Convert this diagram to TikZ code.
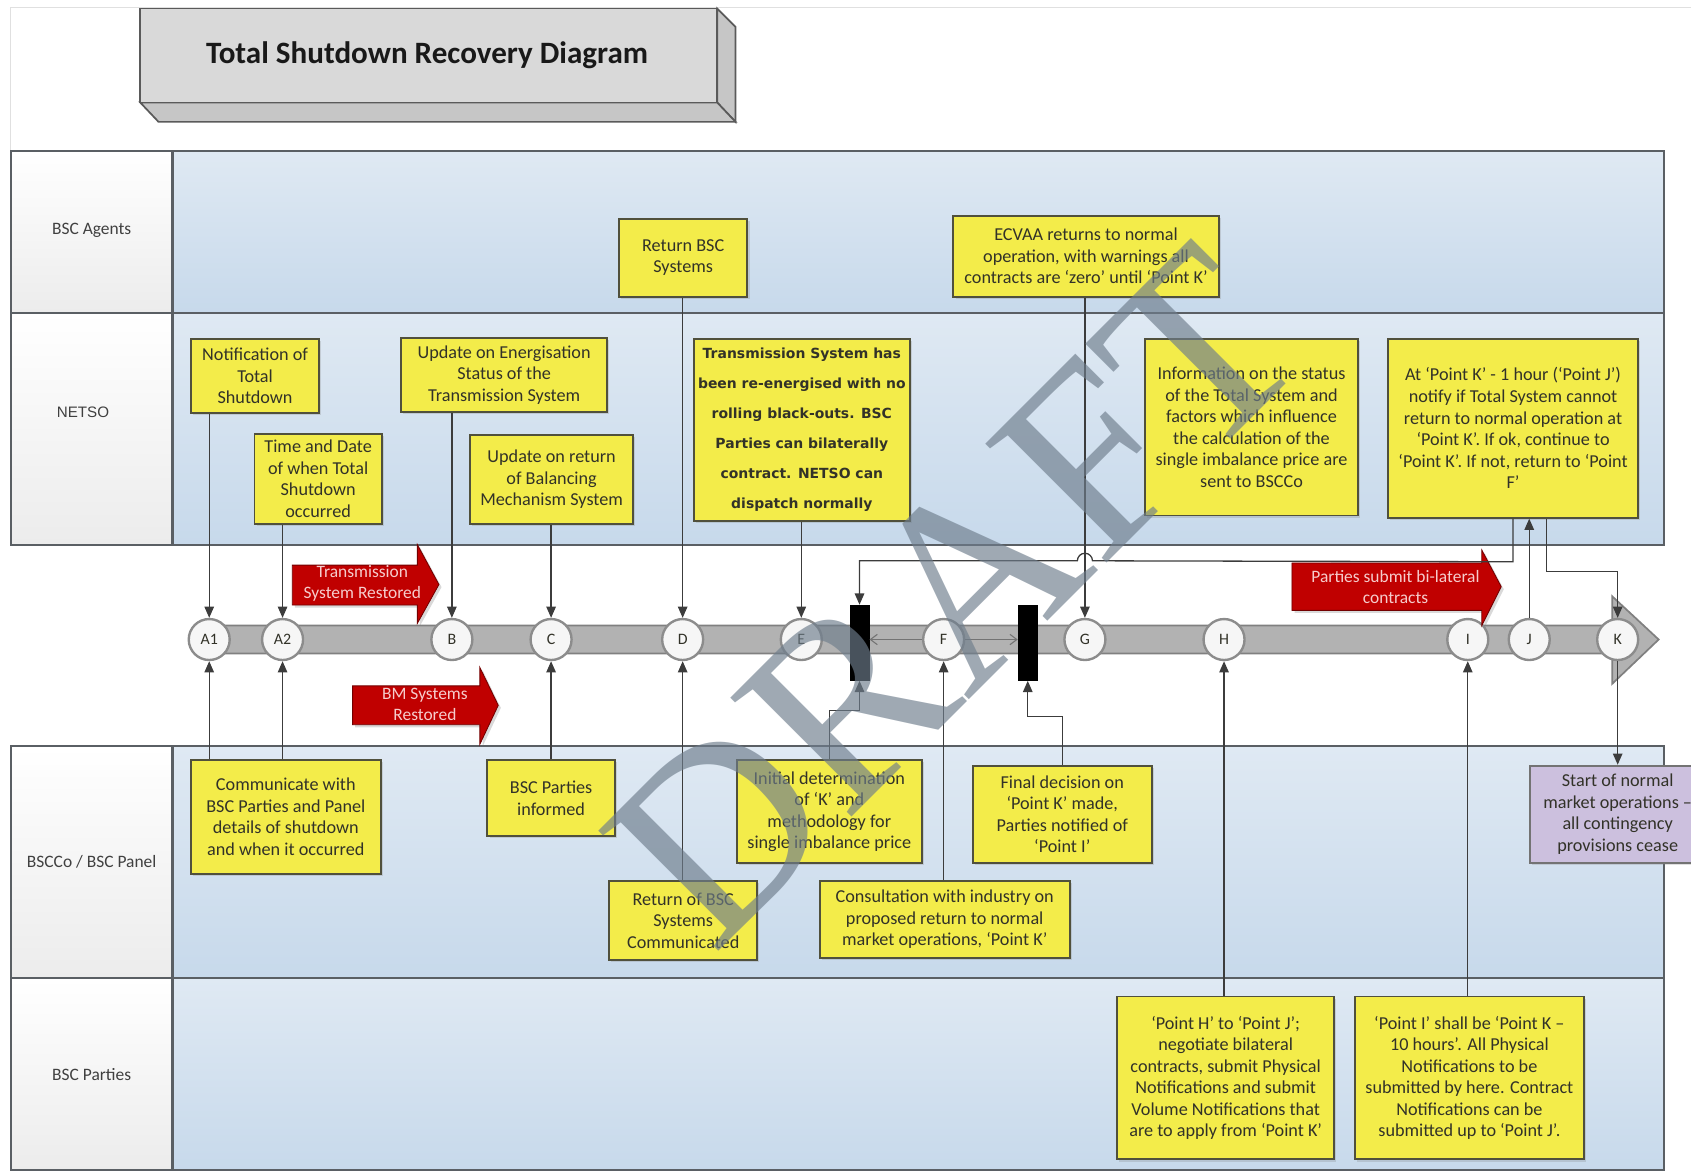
\documentclass[tikz,border=0pt]{standalone}
\usepackage{fontspec}
\setmainfont{Carlito}
\newfontfamily\boldsans{DejaVu Sans}
\newfontfamily\arialsans{Liberation Sans}
\newfontfamily\draftfont{Liberation Serif}
\usetikzlibrary{arrows.meta,shadows}

\definecolor{noteyellow}{RGB}{243,236,74}
\definecolor{noteedge}{RGB}{80,80,60}
\definecolor{lilacfill}{RGB}{204,192,222}
\definecolor{laneTop}{RGB}{223,233,243}
\definecolor{laneBot}{RGB}{199,217,235}
\definecolor{laneedge}{RGB}{90,95,100}
\definecolor{cellBot}{RGB}{236,236,236}
\definecolor{bandfill}{RGB}{178,178,178}
\definecolor{bandedge}{RGB}{128,128,128}
\definecolor{stagefill}{RGB}{246,246,246}
\definecolor{stagedge}{RGB}{140,140,140}
\definecolor{linegray}{RGB}{60,60,60}
\definecolor{redfill}{RGB}{192,0,0}
\definecolor{redtext}{RGB}{246,204,204}
\definecolor{txtgray}{RGB}{50,50,40}
\definecolor{titlefill}{RGB}{217,217,217}
\definecolor{titleshade}{RGB}{198,198,198}
\definecolor{titleedge}{RGB}{90,90,90}
\definecolor{draftgray}{RGB}{110,125,140}

\begin{document}
\begin{tikzpicture}[%
    x=0.25mm, y=-0.25mm,        % one unit is one pixel of the sketch, y runs down
    >={Triangle[length=2.6mm,width=2.2mm]}, % filled heads on every connector
    every node/.style={text=txtgray},
    ]
% -------------------------------------------------
% Box, lane and connector styles
\tikzset{
  note/.style={draw=noteedge, line width=0.45mm, fill=noteyellow, align=center,
    inner sep=1mm, font=\fontsize{12}{14.2}\selectfont,
    drop shadow={opacity=0.25, shadow xshift=0.5mm, shadow yshift=-0.5mm}},
  bignote/.style={note, font=\boldsans\bfseries\fontsize{9.2}{19.8}\selectfont},
  lilac/.style={note, fill=lilacfill, draw=black!55},
  stage/.style={circle, draw=stagedge, line width=0.55mm, fill=stagefill,
    minimum size=9.5mm, inner sep=0pt, font=\fontsize{10.5}{12}\selectfont},
  gate/.style={draw=black, fill=black, minimum width=4.5mm, minimum height=17.5mm,
    inner sep=0pt},
  % Connector line styles
  link/.style={->, draw=linegray, line width=0.3mm},
  flink/.style={-{Straight Barb[length=1.6mm,width=2.4mm]}, draw=black!55, line width=0.25mm},
  redarr/.style={fill=redfill, draw=red!45!black, line width=0.2mm,
    drop shadow={opacity=0.3, shadow xshift=0.6mm, shadow yshift=-0.6mm}},
  arrtxt/.style={align=center, text=redtext, font=\fontsize{11.5}{13.8}\selectfont},
  % Lanes
  lanecell/.style={top color=white, bottom color=cellBot, draw=laneedge, line width=0.5mm},
  lanebg/.style={top color=laneTop, bottom color=laneBot, draw=laneedge, line width=0.5mm},
  lanelbl/.style={font=\fontsize{11.5}{13}\selectfont, text=black!75},
  band/.style={fill=bandfill, draw=bandedge, line width=0.4mm},
  draft/.style={font=\draftfont\fontsize{171}{171}\selectfont, text=draftgray,
    text opacity=0.66, rotate=45, inner sep=0pt}
}
\useasboundingbox (0,0) rectangle (1568,1088);
\clip (0,0) rectangle (1568,1088);
% -------------------------------------------------
% Title block
\draw[black!12, line width=0.3mm] (10,140) -- (10,7) -- (1568,7);
\draw[fill=titleshade, draw=titleedge, line width=0.4mm] (665,8) -- (682,25) -- (682,113) -- (665,95) -- cycle;
\draw[fill=titleshade, draw=titleedge, line width=0.4mm] (130,95) -- (665,95) -- (682,113) -- (147,113) -- cycle;
\draw[fill=titlefill, draw=titleedge, line width=0.4mm] (130,8) rectangle (665,95);
\node[font=\bfseries\fontsize{20.5}{24}\selectfont, text=black!90] (title) at (396,51) {Total Shutdown Recovery Diagram};

% -------------------------------------------------
% Swim lanes
\draw[lanecell] (10,140) rectangle (160,290);
\draw[lanebg] (160,140) rectangle (1543,290);
\draw[lanecell] (10,290) rectangle (160,505);
\draw[lanebg] (160,290) rectangle (1543,505);
\draw[lanecell] (10,692) rectangle (160,907);
\draw[lanebg] (160,692) rectangle (1543,907);
\draw[lanecell] (10,907) rectangle (160,1085);
\draw[lanebg] (160,907) rectangle (1543,1085);

\node[lanelbl] (agents) at (85,214) {BSC Agents};
\node[lanelbl, font=\arialsans\fontsize{10}{12}\selectfont] (netso) at (77,382) {NETSO};
\node[lanelbl] (panel) at (85,799) {BSCCo / BSC Panel};
\node[lanelbl] (parties) at (85,996) {BSC Parties};

% -------------------------------------------------
% Time line with its points
\draw[band] (185,580) -- (1495,580) -- (1495,553) -- (1538,593) -- (1495,634) -- (1495,606) -- (185,606) -- cycle;

\node[stage] (A1) at (194,593) {A1};
\node[stage] (A2) at (262,593) {A2};
\node[stage] (B) at (419,593) {B};
\node[stage] (C) at (511,593) {C};
\node[stage] (D) at (633,593) {D};
\node[stage] (E) at (743,593) {E};
\node[stage] (F) at (875,593) {F};
\node[stage] (G) at (1006,593) {G};
\node[stage] (H) at (1135,593) {H};
\node[stage] (I) at (1361,593) {I};
\node[stage] (J) at (1418,593) {J};
\node[stage] (K) at (1500,593) {K};
\node[gate] (k1) at (797,596) {};
\node[gate] (k2) at (953,596) {};

% Red milestone arrows
\fill[redarr] (271,524) -- (387,524) -- (387,505) -- (407,542) -- (387,578) -- (387,561) -- (271,561) -- cycle;
\node[arrtxt] (rsys) at (336,541) {Transmission\\System Restored};
\fill[redarr] (327,636) -- (445,636) -- (445,619) -- (462,654) -- (445,690) -- (445,672) -- (327,672) -- cycle;
\node[arrtxt] (rbm) at (394,653) {BM Systems\\Restored};
\fill[redarr] (1198,522) -- (1374,522) -- (1374,510) -- (1392,544) -- (1374,580) -- (1374,566) -- (1198,566) -- cycle;
\node[arrtxt] (rbil) at (1294,544) {Parties submit bi-lateral\\contracts};

% -------------------------------------------------
% BSC Agents
\node[note, minimum width=29.75mm, minimum height=18mm] (rbs) at (633.5,239) {Return BSC\\Systems};
\node[note, minimum width=61.5mm, minimum height=18.75mm] (ecv) at (1007,237.5) {ECVAA returns to normal\\operation, with warnings all\\contracts are ‘zero’ until ‘Point K’};

% NETSO
\node[note, minimum width=29.75mm, minimum height=17.25mm] (nts) at (236.5,348.5) {Notification of\\Total\\Shutdown};
\node[note, minimum width=29.5mm, minimum height=21mm] (tdo) at (295,444) {Time and Date\\of when Total\\Shutdown\\occurred};
\node[note, minimum width=47.75mm, minimum height=17.25mm] (ues) at (467.5,347.5) {Update on Energisation\\Status of the\\Transmission System};
\node[note, minimum width=37.75mm, minimum height=20.75mm] (urb) at (511.5,444.5) {Update on return\\of Balancing\\Mechanism System};
\node[bignote, minimum width=49.25mm, minimum height=42.25mm] (tsre) at (743.5,398.5) {Transmission System has\\been re-energised with no\\rolling black-outs. BSC\\Parties can bilaterally\\contract. NETSO can\\dispatch normally};
\node[note, minimum width=49.25mm, minimum height=41mm] (info) at (1160.5,396) {Information on the status\\of the Total System and\\factors which influence\\the calculation of the\\single imbalance price are\\sent to BSCCo};
\node[note, minimum width=58mm, minimum height=41.5mm] (pointk) at (1403,397) {At ‘Point K’ - 1 hour (‘Point J’)\\notify if Total System cannot\\return to normal operation at\\‘Point K’. If ok, continue to\\‘Point K’. If not, return to ‘Point\\F’};

% BSCCo / BSC Panel
\node[note, minimum width=44mm, minimum height=26.25mm] (comm) at (265,757.5) {Communicate with\\BSC Parties and Panel\\details of shutdown\\and when it occurred};
\node[note, minimum width=29.5mm, minimum height=17.5mm] (inf) at (511,740) {BSC Parties\\informed};
\node[note, minimum width=34.25mm, minimum height=18.25mm] (rbsc) at (633.5,853.5) {Return of BSC\\Systems\\Communicated};
\node[note, minimum width=43mm, minimum height=23.75mm] (init) at (769,752.5) {Initial determination\\of ‘K’ and\\methodology for\\single imbalance price};
\node[note, minimum width=58mm, minimum height=17.75mm] (cons) at (876,852.5) {Consultation with industry on\\proposed return to normal\\market operations, ‘Point K’};
\node[note, minimum width=41.5mm, minimum height=22.5mm] (fin) at (985,755) {Final decision on\\‘Point K’ made,\\Parties notified of\\‘Point I’};
\node[lilac, minimum width=40.5mm, minimum height=22.5mm] (start) at (1500,755) {Start of normal\\market operations –\\all contingency\\provisions cease};

% BSC Parties
\node[note, minimum width=50.25mm, minimum height=37.75mm] (phj) at (1136.5,999.5) {‘Point H’ to ‘Point J’;\\negotiate bilateral\\contracts, submit Physical\\Notifications and submit\\Volume Notifications that\\are to apply from ‘Point K’};
\node[note, minimum width=53.25mm, minimum height=37.75mm] (pik) at (1362.5,999.5) {‘Point I’ shall be ‘Point K –\\10 hours’. All Physical\\Notifications to be\\submitted by here. Contract\\Notifications can be\\submitted up to ‘Point J’.};

% -------------------------------------------------
% Connectors down to the time line
\draw[link] (nts.south -| A1) -- (A1);
\draw[link] (tdo.south -| A2) -- (A2);
\draw[link] (ues.south -| B) -- (B);
\draw[link] (urb.south -| C) -- (C);
\draw[link] (rbs.south -| D) -- (D);
\draw[link] (tsre.south -| E) -- (E);
\draw[link] (ecv.south -| G) -- (G);
% Connectors up to the time line
\draw[link] (comm.north -| A1) -- (A1);
\draw[link] (comm.north -| A2) -- (A2);
\draw[link] (inf.north -| C) -- (C);
\draw[link] (rbsc.north -| D) -- (D);
\draw[link] (cons.north -| F) -- (F);
\draw[link] (phj.north -| H) -- (H);
\draw[link] (pik.north -| I) -- (I);
\draw[link] (init.north) -- ++(0,-45) -| (k1.south);
\draw[link] (fin.north) -- ++(0,-45) -| (k2.south);
% Loop round 'Point F' and on to 'Point K'
\draw[flink] (F.west) -- (F.west -| k1.east);
\draw[flink] (F.east) -- (F.east -| k2.west);
\draw[link] (J) -- (J |- pointk.south);
\draw[link] (pointk.south) -- ++(0,40) -- (1013,520) arc (0:-180:7) -| (k1.north);
\draw[link] ([xshift=7.75mm]pointk.south) -- ++(0,49) -| (K);
\draw[link] (K) -- (start);

% -------------------------------------------------
% Watermark
\node[draft] (wm) at (884,552) {DRAFT};
\end{tikzpicture}
\end{document}
